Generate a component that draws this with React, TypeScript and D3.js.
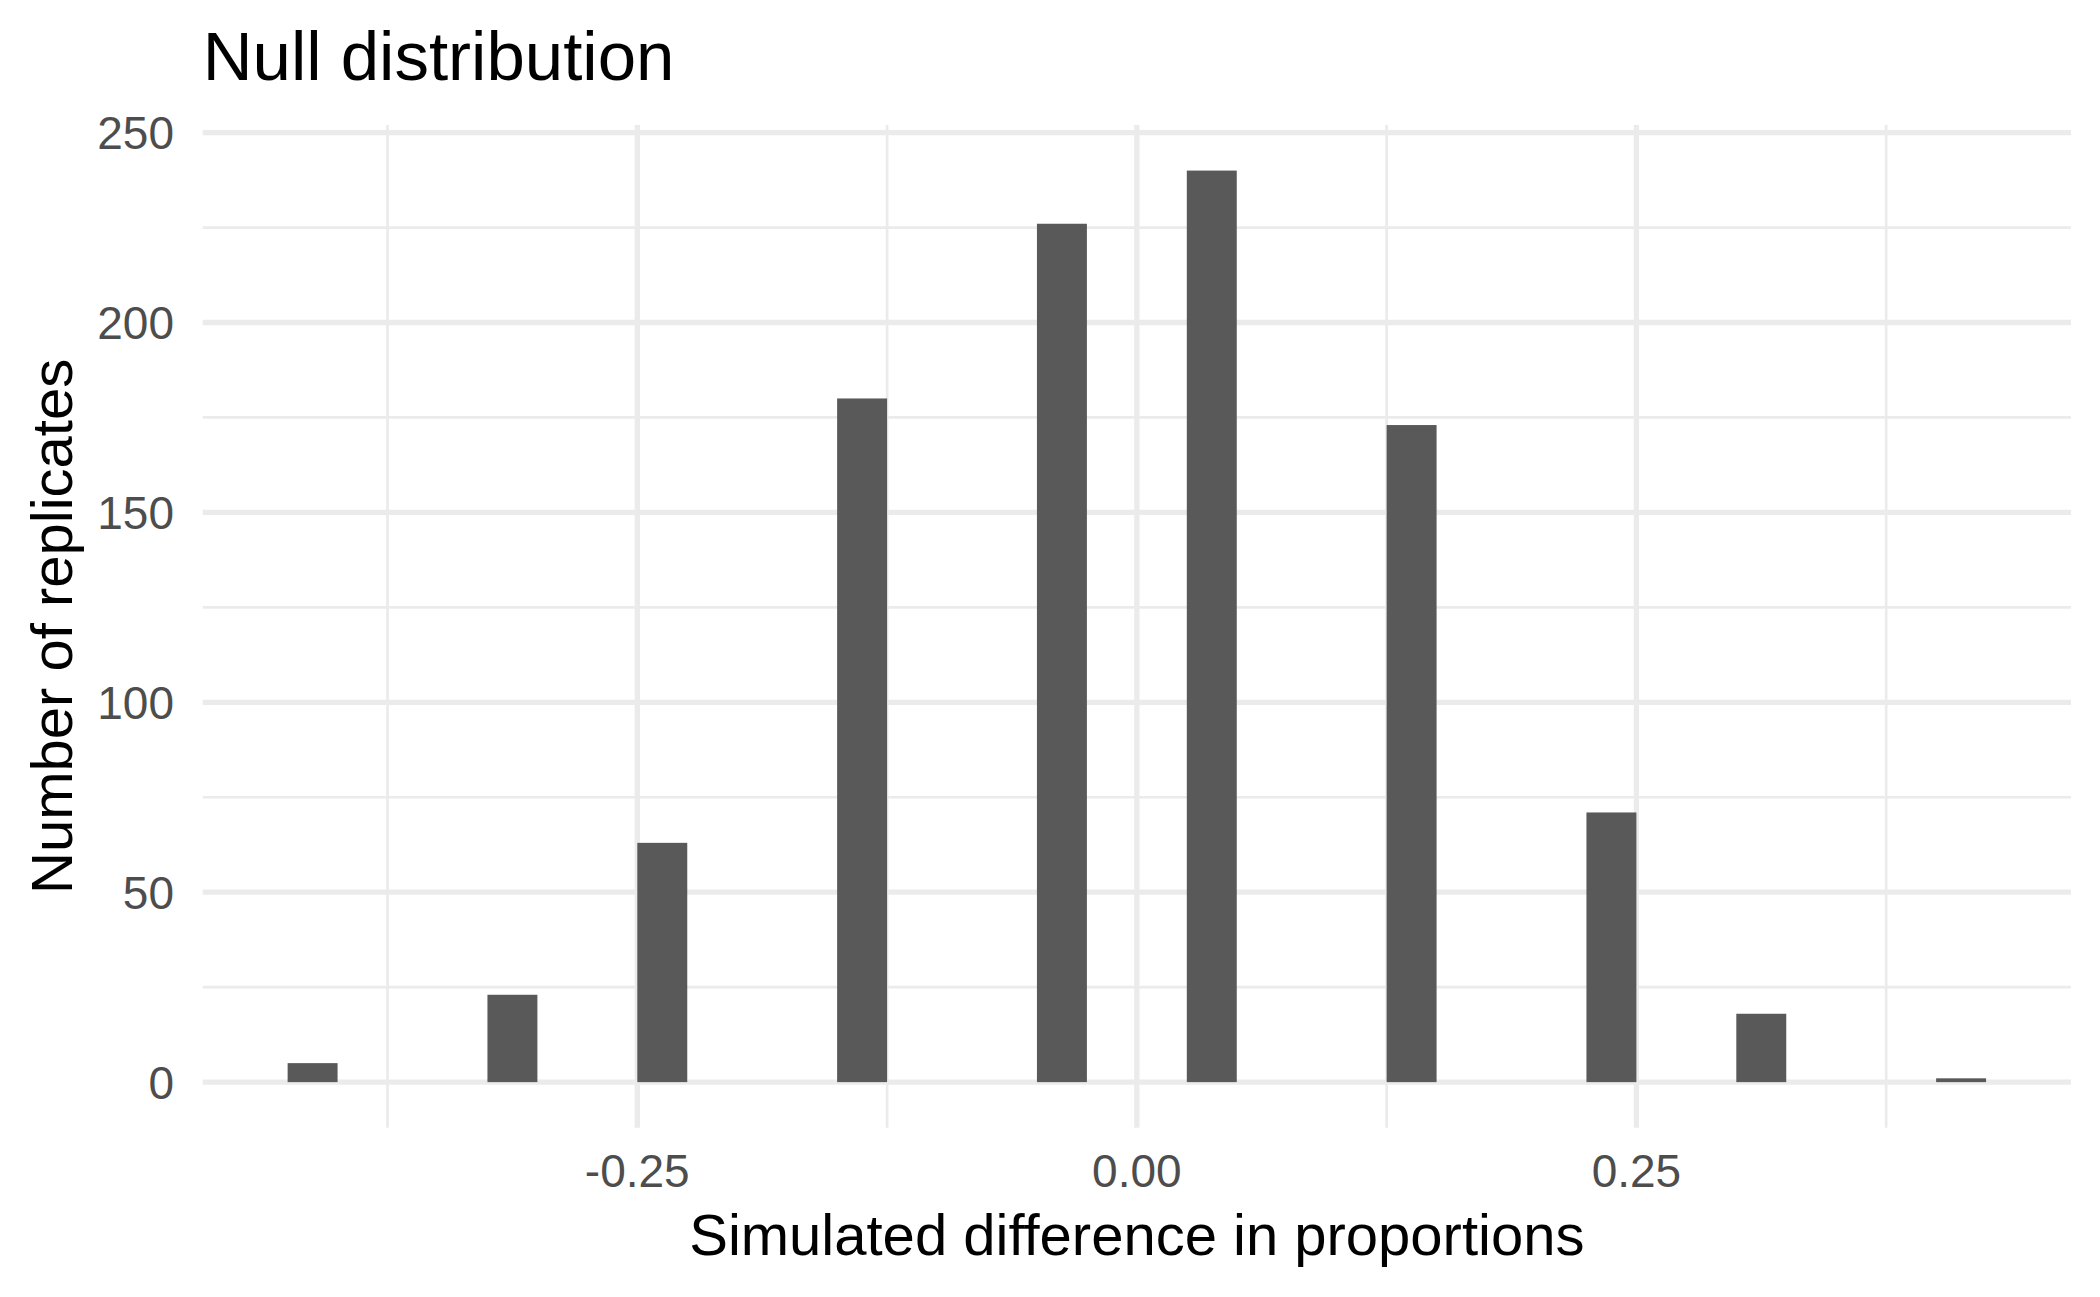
import React from "react";
import * as d3 from "d3";

const binCenters = [-0.4125, -0.3125, -0.2375, -0.1375, -0.0375, 0.0375, 0.1375, 0.2375, 0.3125, 0.4125];
const binCounts = [5, 23, 63, 180, 226, 240, 173, 71, 18, 1];
const binWidth = 0.025;
const xMajorTicks = [-0.25, 0, 0.25];
const xMinorTicks = [-0.375, -0.125, 0.125, 0.375];
const yMajorTicks = [0, 50, 100, 150, 200, 250];
const yMinorTicks = [25, 75, 125, 175, 225];
const titleText = "Null distribution";
const xTitle = "Simulated difference in proportions";
const yTitle = "Number of replicates";

const W = 2100;
const H = 1297;
const panel = { left: 202.7, right: 2071, top: 125, bottom: 1127.7 };
const FONT = "'Liberation Sans', Arial, Helvetica, sans-serif";
const GRID = "#EBEBEB";

export default function App() {
  const xmin = d3.min(binCenters)! - binWidth / 2;
  const xmax = d3.max(binCenters)! + binWidth / 2;
  const xpad = (xmax - xmin) * 0.05;
  const ymax = d3.max(binCounts)!;
  const ypad = ymax * 0.05;

  const x = d3.scaleLinear().domain([xmin - xpad, xmax + xpad]).range([panel.left, panel.right]);
  const y = d3.scaleLinear().domain([-ypad, ymax + ypad]).range([panel.bottom, panel.top]);

  const fmt = (v: number) => d3.format(".2f")(v).replace("\u2212", "-");

  return (
    <svg
      width={W}
      height={H}
      viewBox={`0 0 ${W} ${H}`}
      style={{ position: "absolute", left: 0, top: 0, background: "#fff" }}
    >
      <rect x={0} y={0} width={W} height={H} fill="#fff" />
      {yMinorTicks.map((t) => (
        <line key={"ym" + t} x1={panel.left} x2={panel.right} y1={y(t)} y2={y(t)} stroke={GRID} strokeWidth={2.7} />
      ))}
      {xMinorTicks.map((t) => (
        <line key={"xm" + t} x1={x(t)} x2={x(t)} y1={panel.top} y2={panel.bottom} stroke={GRID} strokeWidth={2.7} />
      ))}
      {yMajorTicks.map((t) => (
        <line key={"yM" + t} x1={panel.left} x2={panel.right} y1={y(t)} y2={y(t)} stroke={GRID} strokeWidth={5.3} />
      ))}
      {xMajorTicks.map((t) => (
        <line key={"xM" + t} x1={x(t)} x2={x(t)} y1={panel.top} y2={panel.bottom} stroke={GRID} strokeWidth={5.3} />
      ))}
      {binCenters.map((c, i) => (
        <rect
          key={"b" + i}
          x={x(c - binWidth / 2)}
          width={x(c + binWidth / 2) - x(c - binWidth / 2)}
          y={y(binCounts[i])}
          height={y(0) - y(binCounts[i])}
          fill="#595959"
        />
      ))}
      {yMajorTicks.map((t) => (
        <text
          key={"yl" + t}
          x={174}
          y={y(t)}
          dy="0.36em"
          textAnchor="end"
          fontFamily={FONT}
          fontSize={46}
          fill="#4D4D4D"
        >
          {t}
        </text>
      ))}
      {xMajorTicks.map((t) => (
        <text
          key={"xl" + t}
          x={x(t)}
          y={1187}
          textAnchor="middle"
          fontFamily={FONT}
          fontSize={46}
          fill="#4D4D4D"
        >
          {fmt(t)}
        </text>
      ))}
      <text x={panel.left} y={80} fontFamily={FONT} fontSize={69} fill="#000">
        {titleText}
      </text>
      <text
        x={(panel.left + panel.right) / 2}
        y={1255}
        textAnchor="middle"
        fontFamily={FONT}
        fontSize={58}
        fill="#000"
      >
        {xTitle}
      </text>
      <text
        transform={`translate(71.5, ${(panel.top + panel.bottom) / 2}) rotate(-90)`}
        textAnchor="middle"
        fontFamily={FONT}
        fontSize={58}
        fill="#000"
      >
        {yTitle}
      </text>
    </svg>
  );
}
